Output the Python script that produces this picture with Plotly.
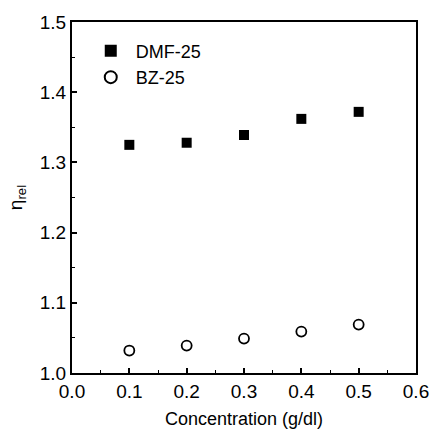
import plotly.graph_objects as go

conc = [0.1, 0.2, 0.3, 0.4, 0.5]
dmf = [1.325, 1.328, 1.339, 1.362, 1.372]
bz = [1.032, 1.039, 1.049, 1.059, 1.069]

x_ticks = [0, 0.1, 0.2, 0.3, 0.4, 0.5, 0.6]
x_ticktext = ["0.0", "0.1", "0.2", "0.3", "0.4", "0.5", "0.6"]
y_ticks = [1.0, 1.1, 1.2, 1.3, 1.4, 1.5]
y_ticktext = ["1.0", "1.1", "1.2", "1.3", "1.4", "1.5"]

FONT = "Liberation Sans, Arial, sans-serif"

fig = go.Figure()
fig.add_trace(go.Scatter(x=conc, y=dmf, mode="markers", name="DMF-25",
                         marker=dict(symbol="square", size=10, color="black")))
fig.add_trace(go.Scatter(x=conc, y=bz, mode="markers", name="BZ-25",
                         marker=dict(symbol="circle-open", size=10, color="black",
                                     line=dict(width=1.8, color="black"))))

axis_common = dict(showline=True, linecolor="black", linewidth=2, mirror=True,
                   ticks="inside", ticklen=5, tickwidth=1.5, tickcolor="black",
                   showgrid=False, zeroline=False, automargin=False,
                   tickfont=dict(family=FONT, size=19, color="black"))

fig.update_layout(
    width=432, height=434,
    margin=dict(l=72, r=16, t=22, b=61),
    plot_bgcolor="white", paper_bgcolor="white",
    showlegend=True,
    legend=dict(x=0.04, y=0.97, xanchor="left", yanchor="top",
                font=dict(family=FONT, size=18, color="black"),
                bgcolor="rgba(0,0,0,0)", itemsizing="constant", itemwidth=40,
                tracegroupgap=0),
    xaxis=dict(range=[0, 0.6], tickvals=x_ticks, ticktext=x_ticktext,
               minor=dict(ticks="inside", ticklen=3, tickwidth=1, tickcolor="black", dtick=0.05),
               title=dict(text="Concentration (g/dl)", standoff=12,
                          font=dict(family=FONT, size=18, color="black")),
               **axis_common),
    yaxis=dict(range=[1.0, 1.5], tickvals=y_ticks, ticktext=y_ticktext,
               minor=dict(ticks="inside", ticklen=3, tickwidth=1, tickcolor="black", dtick=0.05),
               title=dict(text="η<sub>rel</sub>", standoff=12,
                          font=dict(family=FONT, size=19, color="black")),
               **axis_common),
)

fig.write_html("out.html", config={"displayModeBar": False},
               post_script="document.body.style.margin='0';")
